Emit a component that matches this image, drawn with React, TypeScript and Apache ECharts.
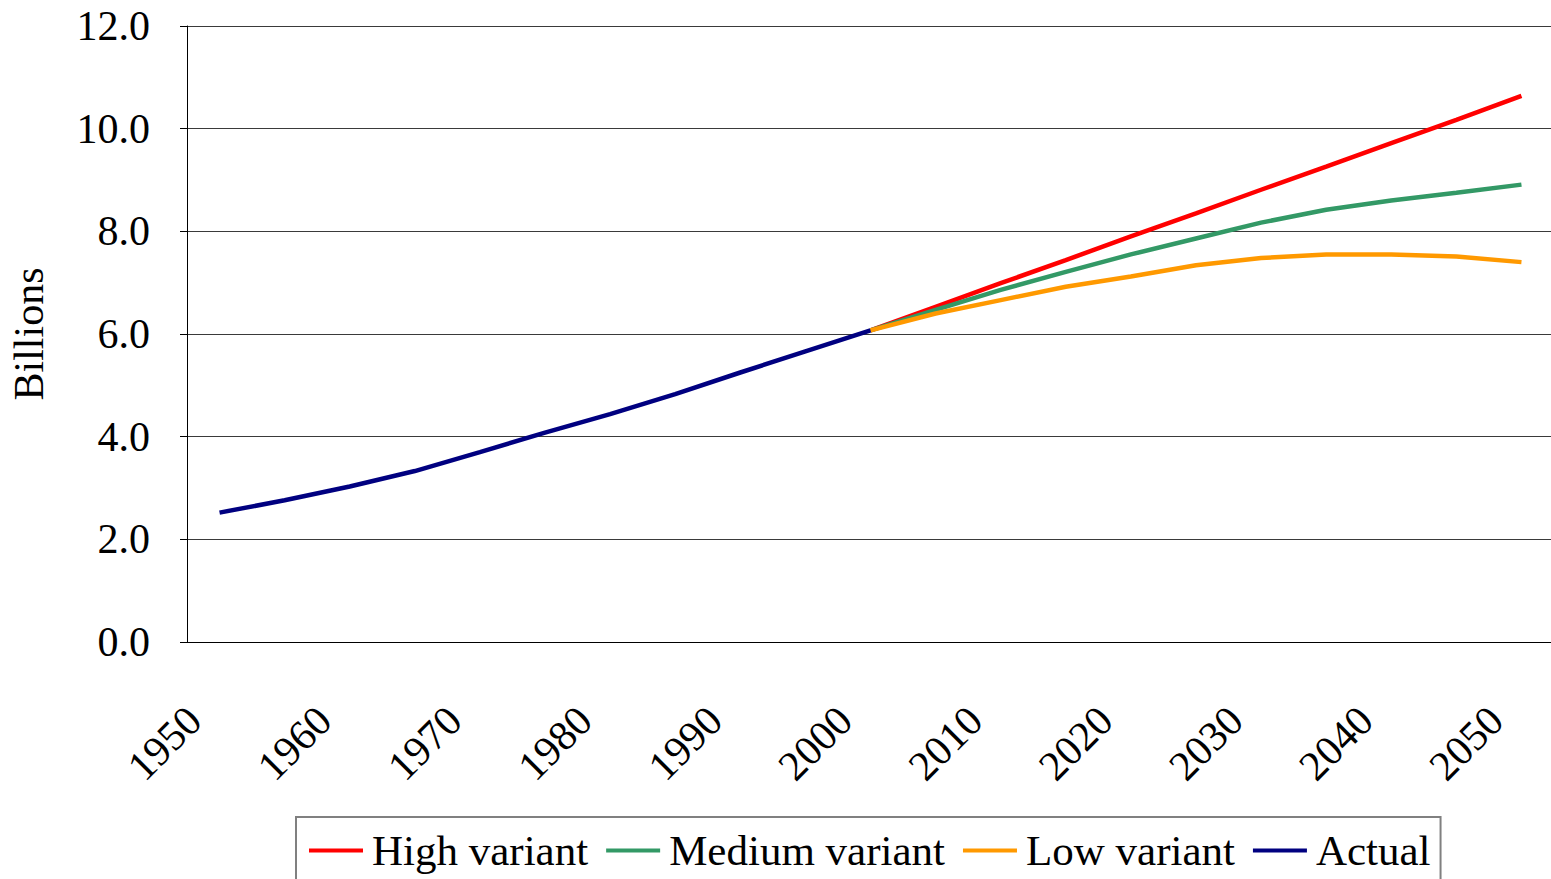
import React, { useEffect, useRef } from "react";
import * as echarts from "echarts";

const years = ["1950","1955","1960","1965","1970","1975","1980","1985","1990","1995","2000","2005","2010","2015","2020","2025","2030","2035","2040","2045","2050"];
const actual = [2.52, 2.76, 3.03, 3.33, 3.70, 4.08, 4.44, 4.83, 5.25, 5.66, 6.07, null, null, null, null, null, null, null, null, null, null];
const high = [null, null, null, null, null, null, null, null, null, null, 6.07, 6.53, 6.99, 7.44, 7.90, 8.35, 8.81, 9.26, 9.72, 10.17, 10.64];
const medium = [null, null, null, null, null, null, null, null, null, null, 6.07, 6.47, 6.86, 7.21, 7.55, 7.86, 8.17, 8.42, 8.60, 8.75, 8.91];
const low = [null, null, null, null, null, null, null, null, null, null, 6.07, 6.40, 6.66, 6.92, 7.12, 7.34, 7.48, 7.55, 7.55, 7.51, 7.40];

const FONT = "'Liberation Serif', 'Times New Roman', serif";

export default function App() {
  const ref = useRef<HTMLDivElement>(null);
  useEffect(() => {
    if (!ref.current) return;
    const chart = echarts.init(ref.current, undefined, { renderer: "svg" });
    const mk = (name: string, data: (number | null)[], color: string) => ({
      name,
      type: "line",
      data,
      symbol: "none",
      connectNulls: false,
      lineStyle: { color, width: 4.5 },
      itemStyle: { color },
    });
    chart.setOption({
      animation: false,
      backgroundColor: "#ffffff",
      textStyle: { fontFamily: FONT },
      grid: { left: 187, right: -3, top: 26, bottom: 237, containLabel: false, outerBoundsMode: "none" },
      xAxis: {
        type: "category",
        data: years,
        boundaryGap: true,
        axisLine: { lineStyle: { color: "#000", width: 1 } },
        axisTick: { interval: 0, length: 14, lineStyle: { color: "#000" } },
        axisLabel: { interval: 1, rotate: 45, margin: 46, padding: [0, 36, 0, 0], fontSize: 42, color: "#000", fontFamily: FONT },
      },
      yAxis: {
        type: "value",
        min: 0,
        max: 12,
        interval: 2,
        name: "Billions",
        nameLocation: "middle",
        nameGap: 137,
        nameTextStyle: { fontSize: 42, color: "#000", fontFamily: FONT },
        axisLine: { show: true, lineStyle: { color: "#000", width: 1 } },
        axisTick: { show: true, length: 7, lineStyle: { color: "#000" } },
        axisLabel: { margin: 37, fontSize: 42, color: "#000", fontFamily: FONT, formatter: (v: number) => v.toFixed(1) },
        splitLine: { show: true, lineStyle: { color: "#3a3a3a", width: 1 } },
      },
      legend: {
        left: 296,
        top: 817,
        padding: [12, 10, 12, 13],
        borderColor: "#808080",
        borderWidth: 2,
        itemGap: 18,
        itemWidth: 54,
        itemHeight: 4,
        icon: "rect",
        textStyle: { fontSize: 43, color: "#000", fontFamily: FONT, padding: [0, 0, 0, 4] },
        data: ["High variant", "Medium variant", "Low variant", "Actual"],
      },
      series: [
        mk("High variant", high, "#FF0000"),
        mk("Medium variant", medium, "#339966"),
        mk("Low variant", low, "#FF9900"),
        mk("Actual", actual, "#000080"),
      ],
    });
    return () => chart.dispose();
  }, []);
  return <div ref={ref} style={{ position: "fixed", left: 0, top: 0, width: 1551, height: 879 }} />;
}
